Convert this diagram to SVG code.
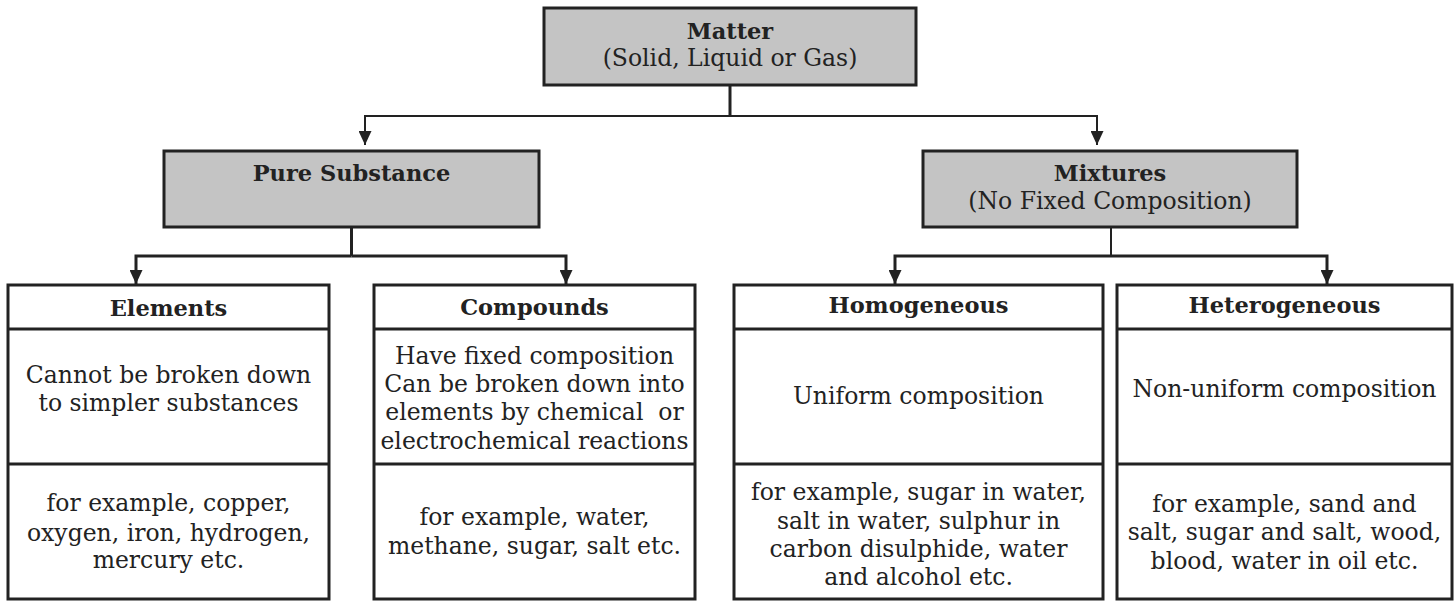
<svg xmlns="http://www.w3.org/2000/svg" width="1455" height="601" viewBox="0 0 1455 601">
<style>
.gray{fill:#c4c4c4;stroke:#222;stroke-width:3}
.box{fill:#fff;stroke:#222;stroke-width:3}
.div{stroke:#222;stroke-width:3}
.b{font-family:"DejaVu Serif",serif;font-weight:bold;font-size:22.5px;fill:#222;text-anchor:middle}
.t{font-family:"DejaVu Serif",serif;font-size:23.5px;fill:#222;text-anchor:middle}
.c{fill:none;stroke:#222;stroke-width:3}
.thin{stroke-width:2}
</style>
<defs>
<marker id="ah" viewBox="0 0 14 13" refX="14" refY="6.5" markerWidth="14" markerHeight="13" markerUnits="userSpaceOnUse" orient="auto">
<path d="M0,0 L14,6.5 L0,13 z" fill="#222"/>
</marker>
</defs>
<g id="connectors">
<path class="c" d="M730,85 V116"/>
<path class="c thin" d="M730,116 H365 V145" marker-end="url(#ah)"/>
<path class="c thin" d="M730,116 H1097 V145" marker-end="url(#ah)"/>
<path class="c" d="M351.5,227 V256"/>
<path class="c" d="M351.5,256 H136 V284" marker-end="url(#ah)"/>
<path class="c" d="M351.5,256 H566 V284" marker-end="url(#ah)"/>
<path class="c thin" d="M1111,227 V256"/>
<path class="c" d="M1111,256 H895 V284" marker-end="url(#ah)"/>
<path class="c" d="M1111,256 H1327 V284" marker-end="url(#ah)"/>
</g>
<g id="matter">
<rect class="gray" x="544" y="8" width="372" height="77"/>
<text class="b" x="730" y="39">Matter</text>
<text class="t" x="730" y="66">(Solid, Liquid or Gas)</text>
</g>
<g id="pure-substance">
<rect class="gray" x="164" y="151" width="375" height="76"/>
<text class="b" x="351.5" y="181">Pure Substance</text>
</g>
<g id="mixtures">
<rect class="gray" x="923" y="151" width="374" height="76"/>
<text class="b" x="1110" y="181">Mixtures</text>
<text class="t" x="1110" y="209">(No Fixed Composition)</text>
</g>
<g id="elements">
<rect class="box" x="8" y="285" width="321" height="314"/>
<line class="div" x1="8" y1="329" x2="329" y2="329"/>
<line class="div" x1="8" y1="464" x2="329" y2="464"/>
<text class="b" x="168.5" y="316">Elements</text>
<text class="t" x="168.5" y="383">Cannot be broken down</text>
<text class="t" x="168.5" y="411">to simpler substances</text>
<text class="t" x="168.5" y="511">for example, copper,</text>
<text class="t" x="168.5" y="541">oxygen, iron, hydrogen,</text>
<text class="t" x="168.5" y="568">mercury etc.</text>
</g>
<g id="compounds">
<rect class="box" x="374" y="285" width="321" height="314"/>
<line class="div" x1="374" y1="329" x2="695" y2="329"/>
<line class="div" x1="374" y1="464" x2="695" y2="464"/>
<text class="b" x="534.5" y="315">Compounds</text>
<text class="t" x="534.5" y="364">Have fixed composition</text>
<text class="t" x="534.5" y="392">Can be broken down into</text>
<text class="t" x="534.5" y="420" xml:space="preserve">elements by chemical  or</text>
<text class="t" x="534.5" y="449">electrochemical reactions</text>
<text class="t" x="534.5" y="525">for example, water,</text>
<text class="t" x="534.5" y="554">methane, sugar, salt etc.</text>
</g>
<g id="homogeneous">
<rect class="box" x="734" y="285" width="369" height="314"/>
<line class="div" x1="734" y1="329" x2="1103" y2="329"/>
<line class="div" x1="734" y1="464" x2="1103" y2="464"/>
<text class="b" x="918.5" y="313">Homogeneous</text>
<text class="t" x="918.5" y="404">Uniform composition</text>
<text class="t" x="918.5" y="500">for example, sugar in water,</text>
<text class="t" x="918.5" y="529">salt in water, sulphur in</text>
<text class="t" x="918.5" y="557">carbon disulphide, water</text>
<text class="t" x="918.5" y="585">and alcohol etc.</text>
</g>
<g id="heterogeneous">
<rect class="box" x="1117" y="285" width="335" height="314"/>
<line class="div" x1="1117" y1="329" x2="1452" y2="329"/>
<line class="div" x1="1117" y1="464" x2="1452" y2="464"/>
<text class="b" x="1284.5" y="313">Heterogeneous</text>
<text class="t" x="1284.5" y="397">Non-uniform composition</text>
<text class="t" x="1284.5" y="512">for example, sand and</text>
<text class="t" x="1284.5" y="540">salt, sugar and salt, wood,</text>
<text class="t" x="1284.5" y="569">blood, water in oil etc.</text>
</g>
</svg>
